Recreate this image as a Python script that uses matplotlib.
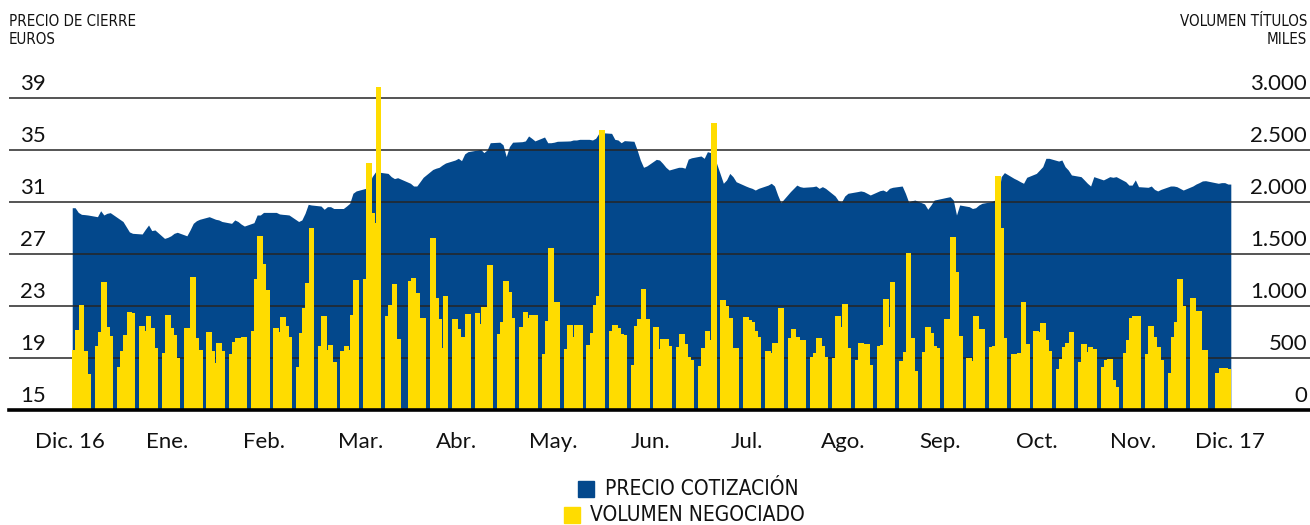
import matplotlib
matplotlib.use("Agg")
import matplotlib.pyplot as plt
import matplotlib.transforms as mtransforms
from matplotlib.patches import Rectangle
import numpy as np

# one row per week, Monday..Friday; None = no session
precio = [
    [30.56, 30.2, 30.05, 30.03, 30.0],
    [29.87, 30.33, 30.0, 30.13, 30.18],
    [29.67, 29.5, 29.1, 28.7, 28.59],
    [28.54, 28.9, 29.23, 28.8, 28.85],
    [28.2, 28.28, 28.4, 28.59, 28.67],
    [28.4, 28.85, 29.36, 29.56, 29.67],
    [29.87, 29.77, 29.67, 29.62, 29.5],
    [29.36, 29.62, 29.5, 29.3, 29.15],
    [29.41, 30.0, 30.0, 30.2, 30.2],
    [30.2, 30.08, 30.05, 30.03, 30.0],
    [29.5, 29.62, 30.13, 30.82, 30.77],
    [30.69, 30.44, 30.64, 30.64, 30.5],
    [30.5, 30.69, 30.9, 31.67, 31.85],
    [32.05, 32.3, 32.95, 33.3, 33.3],
    [33.2, 32.95, 32.8, 32.87, None],
    [32.44, 32.23, 32.23, 32.56, 32.9],
    [33.5, 33.6, 33.67, 33.85, 34.0],
    [34.23, 34.36, 34.18, 34.7, 34.87],
    [35.0, 35.05, 34.8, 35.0, 35.56],
    [35.6, 35.4, 34.5, 35.26, 35.6],
    [35.64, 35.7, 36.08, 35.9, 35.7],
    [36.0, 35.56, 35.56, 35.6, 35.67],
    [35.69, 35.7, 35.77, 35.77, 35.82],
    [35.82, 35.77, 35.9, 36.28, 36.33],
    [36.28, 35.82, 35.77, 35.56, 35.72],
    [35.67, 35.0, 34.23, 33.67, 33.77],
    [34.28, 34.23, 33.97, 33.67, 33.46],
    [33.67, 33.67, 33.6, 34.3, 34.4],
    [34.54, 34.36, 34.87, 34.8, 34.6],
    [32.44, 32.7, 33.2, 32.95, 32.56],
    [32.23, 32.13, 32.05, 31.92, 32.05],
    [32.3, 32.44, 32.23, 31.54, 30.95],
    [31.8, 32.05, 32.3, 32.18, 32.13],
    [32.18, 32.23, 32.05, 32.18, 32.05],
    [31.46, 31.1, 31.0, 31.46, 31.67],
    [31.8, 31.85, 31.8, 31.67, 31.54],
    [31.87, 31.92, 31.8, 32.05, 32.13],
    [32.23, 31.67, 31.0, 31.1, 31.15],
    [30.85, 30.44, 30.77, 31.15, 31.2],
    [31.36, 31.41, 31.15, 30.0, 30.77],
    [30.64, 30.5, 30.56, 30.77, 30.9],
    [31.03, 31.15, 31.23, 32.95, 33.26],
    [32.82, 32.7, 32.56, 32.44, 32.9],
    [33.2, 33.46, 33.72, 34.36, 34.36],
    [34.15, 34.23, 33.72, 33.46, 33.08],
    [32.95, 32.7, 32.44, 32.23, 32.95],
    [32.7, 32.82, 32.95, 32.9, 32.95],
    [32.56, 32.3, 32.3, 32.7, 32.18],
    [32.13, 32.23, 31.97, 31.85, 31.97],
    [32.23, 32.23, 32.18, 32.05, 31.92],
    [32.23, 32.38, 32.49, 32.62, 32.64],
    [None, 32.44, 32.49, 32.49, 32.38],
]

volumen = [
    [577, 769, 1010, 570, 343],
    [615, 747, 1234, 801, 711],
    [417, 570, 721, 939, 929],
    [811, 760, 904, 785, 593],
    [545, 913, 785, 721, 497],
    [785, 449, 1282, 689, 577],
    [747, 570, 449, 641, 570],
    [538, 657, 689, 641, 705],
    [763, 1256, 1676, 1400, 1150],
    [785, 750, 897, 808, 705],
    [417, 744, 978, 1218, 1747],
    [615, 907, 577, 625, 465],
    [570, 619, 577, 913, 1250],
    [1256, 2372, 1891, 1795, 3102],
    [907, 1010, 1211, 679, None],
    [1243, 1272, 1122, 888, 888],
    [1650, 1074, 875, 599, 1096],
    [872, 780, 699, 705, 923],
    [936, 824, 987, 930, 1394],
    [728, 843, 1240, 1131, 888],
    [801, 945, 881, 913, 913],
    [538, 859, 1554, 920, 1035],
    [583, 817, 700, 817, 817],
    [625, 744, 1010, 1099, 2692],
    [763, 817, 785, 731, 720],
    [433, 808, 872, 1160, 872],
    [795, 583, 679, 679, 615],
    [609, 728, 635, 506, 481],
    [426, 593, 763, 673, 2763],
    [1058, 1003, 881, 599, 599],
    [897, 870, 849, 760, 705],
    [570, 551, 641, 641, 978],
    [689, 779, 700, 673, 673],
    [506, 551, 689, 619, 506],
    [497, 904, 800, 1019, 593],
    [481, 641, 560, 631, 433],
    [619, 625, 1067, 800, 1228],
    [474, 561, 1506, 695, 378],
    [561, 795, 737, 619, 593],
    [872, 800, 1660, 1324, 715],
    [497, 470, 907, 776, 776],
    [609, 615, 2253, 1753, 695],
    [535, 500, 545, 1035, 631],
    [763, 748, 833, 673, 570],
    [394, 490, 609, 647, 747],
    [465, 631, 560, 609, 587],
    [410, 481, 487, 288, 224],
    [551, 673, 881, 904, 904],
    [535, 808, 700, 609, 481],
    [359, 699, 843, 1256, 1000],
    [1080, 700, 955, 577, 577],
    [None, 359, 401, 401, 391],
]

meses = ["Dic. 16", "Ene.", "Feb.", "Mar.", "Abr.", "May.", "Jun.",
         "Jul.", "Ago.", "Sep.", "Oct.", "Nov.", "Dic. 17"]
ticks_precio = [15, 19, 23, 27, 31, 35, 39]
ticks_volumen = [0, 500, 1000, 1500, 2000, 2500, 3000]
etiquetas_volumen = ["0", "500", "1.000", "1.500", "2.000", "2.500", "3.000"]

AZUL = "#03488c"
AMARILLO = "#ffdc00"
NUM_FONT = ["Lato", "DejaVu Sans"]
COND = dict(family="DejaVu Sans", stretch="condensed", color="#111111")


def to_series(weeks):
    xs, ys = [], []
    for k, row in enumerate(weeks):
        for d, v in enumerate(row):
            if v is not None:
                xs.append(7 * k + d)
                ys.append(v)
    return np.array(xs, dtype=float), np.array(ys, dtype=float)


x_p, y_p = to_series(precio)
x_v, y_v = to_series(volumen)

fig = plt.figure(figsize=(13.1, 5.25), dpi=100)
ax = fig.add_axes([9 / 1310, 115 / 525, 1301 / 1310, 325 / 525])
ax2 = ax.twinx()

bar_w = 1.8
ax.set_xlim(-20.7, 386.7)
ax.set_ylim(15, 40)
ax2.set_ylim(0, 3125)

# price area, stretched to the outer edge of the first/last bar
x_fill = np.concatenate([[x_p[0] - bar_w / 2], x_p, [x_p[-1] + bar_w / 2]])
y_fill = np.concatenate([[y_p[0]], y_p, [y_p[-1]]])
ax.fill_between(x_fill, 15, y_fill, color=AZUL, linewidth=0, zorder=1)

for t in ticks_precio[1:]:
    ax.axhline(t, color="#262626", lw=1.1, zorder=2)

ax2.bar(x_v, y_v, width=bar_w, color=AMARILLO, linewidth=0, zorder=3)
ax2.axhline(0, color="black", lw=2.6, zorder=5, clip_on=False)

for a in (ax, ax2):
    for s in a.spines.values():
        s.set_visible(False)
    a.set_xticks([])
    a.set_yticks([])

# axis numbers sit just above their grid lines
lt = mtransforms.offset_copy(
    mtransforms.blended_transform_factory(ax.transAxes, ax.transData),
    fig=fig, x=0, y=8, units="dots")
for t in ticks_precio:
    ax.text(37 / 1301, t, str(t), transform=lt, ha="right", va="baseline",
            fontsize=16, family=NUM_FONT, color="#111111")

rt = mtransforms.offset_copy(
    mtransforms.blended_transform_factory(ax2.transAxes, ax2.transData),
    fig=fig, x=0, y=8, units="dots")
for v, lab in zip(ticks_volumen, etiquetas_volumen):
    ax2.text(1298 / 1301, v, lab, transform=rt, ha="right", va="baseline",
             fontsize=16, family=NUM_FONT, color="#111111")

# month labels, evenly spaced across the year
mt = mtransforms.blended_transform_factory(ax.transData, fig.transFigure)
for pos, lab in zip(np.linspace(-1.5, 361.6, len(meses)), meses):
    ax.text(pos, 1 - 448 / 525, lab, transform=mt, ha="center",
            va="baseline", fontsize=16, family=NUM_FONT, color="#111111")

fig.text(9 / 1310, 1 - 14 / 525, "PRECIO DE CIERRE", ha="left", va="top",
         fontsize=10.8, **COND)
fig.text(9 / 1310, 1 - 32 / 525, "EUROS", ha="left", va="top",
         fontsize=10.8, **COND)
fig.text(1307 / 1310, 1 - 14 / 525, "VOLUMEN TÍTULOS", ha="right", va="top",
         fontsize=10.8, **COND)
fig.text(1307 / 1310, 1 - 32 / 525, "MILES", ha="right", va="top",
         fontsize=10.8, **COND)

# legend
fig.patches.append(Rectangle((578 / 1310, 1 - 497 / 525), 16 / 1310, 16 / 525,
                             transform=fig.transFigure, color=AZUL))
fig.patches.append(Rectangle((564 / 1310, 1 - 523 / 525), 16 / 1310, 16 / 525,
                             transform=fig.transFigure, color=AMARILLO))
fig.text(605 / 1310, 1 - 489 / 525, "PRECIO COTIZACIÓN", ha="left",
         va="center", fontsize=15, **COND)
fig.text(590 / 1310, 1 - 515 / 525, "VOLUMEN NEGOCIADO", ha="left",
         va="center", fontsize=15, **COND)

fig.savefig("out.png", dpi=100)
